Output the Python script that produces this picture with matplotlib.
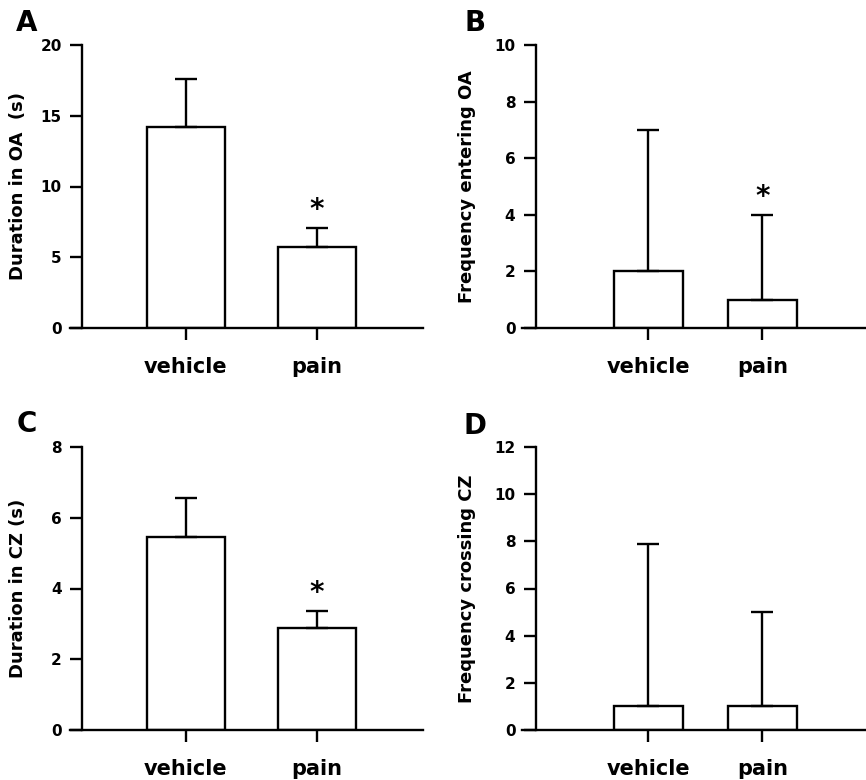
import numpy as np
import matplotlib
matplotlib.use("Agg")
import matplotlib.pyplot as plt

plt.rcParams['font.family'] = ['DejaVu Sans']
plt.rcParams['font.weight'] = 'bold'

groups = ["vehicle", "pain"]

# panel values: mean and upper error
oa_duration = [14.2, 5.75]
oa_duration_err = [3.4, 1.3]
oa_entries = [2.0, 1.0]
oa_entries_err = [5.0, 3.0]
cz_duration = [5.45, 2.87]
cz_duration_err = [1.12, 0.5]
cz_crossing = [1.0, 1.0]
cz_crossing_err = [6.9, 4.0]

sig_oa_duration = [False, True]
sig_oa_entries = [False, True]
sig_cz_duration = [False, True]
sig_cz_crossing = [False, False]

W, H = 866, 780
fig = plt.figure(figsize=(W / 100, H / 100), dpi=100)

LW = 1.7


def make_panel(rect_px, xlim, spine_x, ylim, yticks, means, errs, sig,
               ylabel, letter, letter_xy, label_x):
    l, t, r, b = rect_px
    ax = fig.add_axes([l / W, 1 - b / H, (r - l) / W, (b - t) / H])
    x = np.arange(len(groups))
    ax.bar(x, means, width=0.6, color='white', edgecolor='black',
           linewidth=LW, zorder=2)
    ax.errorbar(x, means, yerr=[np.zeros(len(means)), errs], fmt='none',
                ecolor='black', elinewidth=LW, capsize=8, capthick=LW,
                zorder=3)
    for xi, m, e, s in zip(x, means, errs, sig):
        if s:
            ax.annotate('*', (xi, m + e), xytext=(0, 13),
                        textcoords='offset points', ha='center', va='center',
                        fontsize=20, fontweight='bold')
    ax.set_xlim(*xlim)
    ax.set_ylim(*ylim)
    ax.set_yticks(yticks)
    ax.set_xticks(x)
    ax.set_xticklabels(groups, fontsize=15, fontweight='bold')
    ax.tick_params(axis='y', direction='out', length=8.6, width=LW,
                   labelsize=11, pad=6)
    ax.tick_params(axis='x', direction='out', length=8.6, width=LW, pad=12)
    for lab in ax.get_yticklabels():
        lab.set_fontweight('bold')
    for sp in ['top', 'right']:
        ax.spines[sp].set_visible(False)
    ax.spines['left'].set_position(('data', spine_x))
    ax.spines['left'].set_linewidth(LW)
    ax.spines['bottom'].set_linewidth(LW)
    ax.set_ylabel(ylabel, fontsize=13, fontweight='bold')
    ax.yaxis.set_label_coords(label_x, 0.5)
    fig.text(letter_xy[0] / W, 1 - letter_xy[1] / H, letter, fontsize=20,
             fontweight='bold', ha='center', va='center')
    return ax


# left column: y-axis at 82 px, right column: y-axis at 535 px
make_panel((70, 45, 423, 328), (-0.885, 1.809), -0.794, (0, 20),
           [0, 5, 10, 15, 20], oa_duration, oa_duration_err, sig_oa_duration,
           "Duration in OA  (s)", "A", (27, 23), -0.122)
make_panel((522, 45, 866, 328), (-1.108, 1.909), -0.988, (0, 10),
           [0, 2, 4, 6, 8, 10], oa_entries, oa_entries_err, sig_oa_entries,
           "Frequency entering OA", "B", (475, 23), -0.134)
make_panel((70, 447, 423, 730), (-0.885, 1.809), -0.794, (0, 8),
           [0, 2, 4, 6, 8], cz_duration, cz_duration_err, sig_cz_duration,
           "Duration in CZ (s)", "C", (27, 424), -0.122)
make_panel((522, 447, 866, 730), (-1.108, 1.909), -0.988, (0, 12),
           [0, 2, 4, 6, 8, 10, 12], cz_crossing, cz_crossing_err,
           sig_cz_crossing, "Frequency crossing CZ", "D", (475, 426), -0.134)

fig.savefig("out.png", dpi=100, facecolor='white')
